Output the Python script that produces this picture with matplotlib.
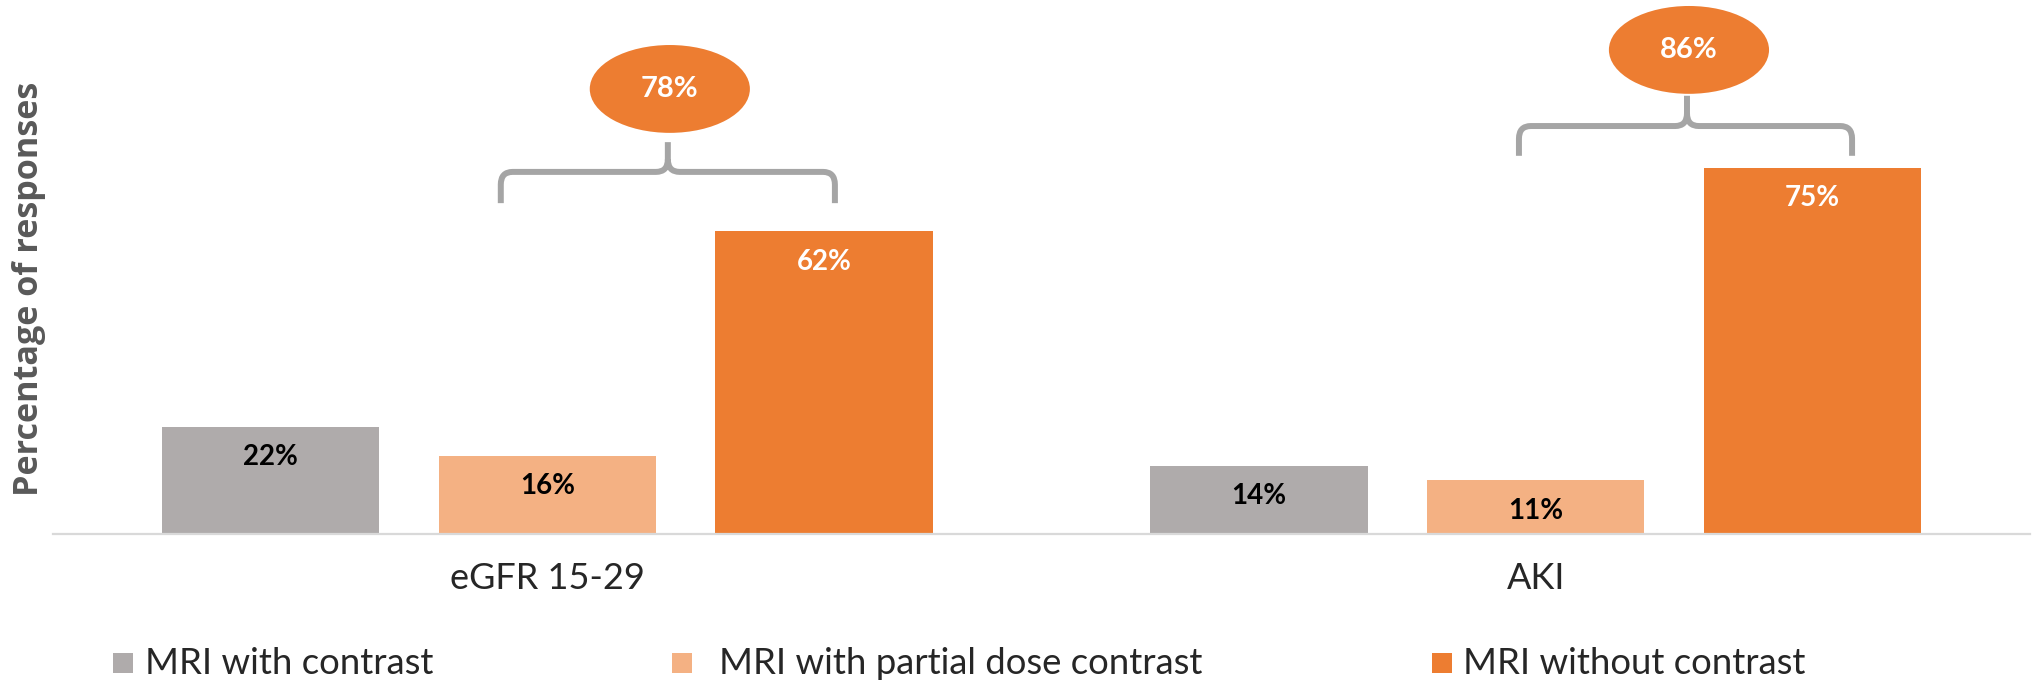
import numpy as np
import matplotlib.pyplot as plt
from matplotlib.patches import Ellipse, PathPatch, Rectangle
from matplotlib.path import Path

plt.rcParams['font.family'] = ['Lato', 'DejaVu Sans']

# -----------------------
# Data
# -----------------------
categories = ['eGFR 15-29', 'AKI']
series_names = ['MRI with contrast', 'MRI with partial dose contrast', 'MRI without contrast']
with_contrast = [22, 14]
partial_dose = [16, 11]
without_contrast = [62, 75]

colors = ['#AFABAB', '#F4B183', '#ED7D31']
label_colors = ['black', 'black', 'white']

# bracket/bubble placement per group: (left, right, tip) x-offsets from the group
# centre, and (leg bottom, bar, tip, bubble centre) heights in %
bracket_x = [(-0.047, 0.291, 0.122), (-0.017, 0.320, 0.153)]
bracket_y = [(67.8, 74.2, 80.3, 91.2), (77.5, 83.6, 89.8, 99.2)]

W, H = 2034, 684
fig = plt.figure(figsize=(W / 100, H / 100), dpi=100)
ax = fig.add_axes([53 / W, 150 / H, (2030 - 53) / W, 534 / H])

x = np.arange(len(categories))
bar_w = 0.22
step = 0.28
all_series = [with_contrast, partial_dose, without_contrast]

for i, vals in enumerate(all_series):
    xs = x + (i - 1) * step
    ax.bar(xs, vals, width=bar_w, color=colors[i], zorder=2)
    for xi, v in zip(xs, vals):
        ax.text(xi, v - 6.2, f'{v}%', ha='center', va='center',
                fontsize=20, fontweight='bold', color=label_colors[i])


def draw_bracket(ax, x0, x1, xm, yb, yl, yt, rx=0.012, ry=2.6):
    verts = [
        (x0, yb), (x0, yl - ry), (x0, yl), (x0 + rx, yl),
        (xm - rx, yl), (xm, yl), (xm, yl + ry), (xm, yt),
        (xm, yl + ry), (xm, yl), (xm + rx, yl),
        (x1 - rx, yl), (x1, yl), (x1, yl - ry), (x1, yb),
    ]
    codes = [
        Path.MOVETO, Path.LINETO, Path.CURVE3, Path.CURVE3,
        Path.LINETO, Path.CURVE3, Path.CURVE3, Path.LINETO,
        Path.MOVETO, Path.CURVE3, Path.CURVE3,
        Path.LINETO, Path.CURVE3, Path.CURVE3, Path.LINETO,
    ]
    ax.add_patch(PathPatch(Path(verts, codes), facecolor='none',
                           edgecolor='#A5A5A5', lw=4.3, capstyle='butt',
                           joinstyle='round', zorder=3))


# combined share of partial dose + no contrast
for g in range(len(categories)):
    total = partial_dose[g] + without_contrast[g]
    dx0, dx1, dxm = bracket_x[g]
    yb, yl, yt, yc = bracket_y[g]
    draw_bracket(ax, x[g] + dx0, x[g] + dx1, x[g] + dxm, yb, yl, yt)
    ax.add_patch(Ellipse((x[g] + dxm + 0.002, yc), 0.162, 18.0,
                         facecolor='#ED7D31', edgecolor='none', zorder=3))
    ax.text(x[g] + dxm + 0.002, yc, f'{total}%', ha='center', va='center',
            fontsize=21, fontweight='bold', color='white', zorder=4)

ax.set_xlim(-0.5, 1.5)
ax.set_ylim(0, 534 / 4.88)
ax.set_xticks(x)
ax.set_xticklabels(categories, fontsize=26, fontweight='normal', color='#262626')
ax.tick_params(axis='x', length=0, pad=20)
ax.set_yticks([])
for side in ['top', 'right', 'left']:
    ax.spines[side].set_visible(False)
ax.spines['bottom'].set_color('#D9D9D9')
ax.spines['bottom'].set_linewidth(1.6)
ax.patch.set_alpha(0)

fig.text(29 / W, 1 - 289 / H, 'Percentage of responses', rotation=90,
         ha='center', va='center', fontsize=24.6, fontweight='bold',
         color='#595959', family=['Open Sans', 'DejaVu Sans'])

# legend row along the bottom
square_x = [113, 672, 1432]
text_x = [145, 719, 1463]
ly = 663
for i, name in enumerate(series_names):
    fig.patches.append(Rectangle((square_x[i] / W, 1 - (ly + 10) / H), 20 / W, 20 / H,
                                 transform=fig.transFigure, facecolor=colors[i],
                                 edgecolor='none'))
    fig.text(text_x[i] / W, 1 - ly / H, name, ha='left', va='center',
             fontsize=26.3, fontweight='normal', color='#262626')

fig.savefig('out.png', dpi=100)
